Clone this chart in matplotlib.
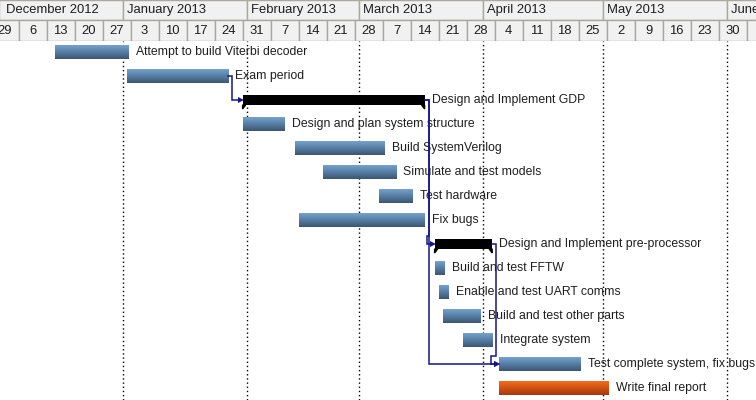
import numpy as np
import pandas as pd
import matplotlib
matplotlib.use("Agg")
import matplotlib.pyplot as plt
import matplotlib.dates as mdates
from matplotlib.patches import Rectangle, Polygon
from matplotlib.colors import to_rgb

# task data
tasks = ["Attempt to build Viterbi decoder", "Exam period", "Design and Implement GDP",
         "Design and plan system structure", "Build SystemVerilog", "Simulate and test models",
         "Test hardware", "Fix bugs", "Design and Implement pre-processor", "Build and test FFTW",
         "Enable and test UART comms", "Build and test other parts", "Integrate system",
         "Test complete system, fix bugs", "Write final report"]
starts = ["2012-12-15", "2013-01-02", "2013-01-31", "2013-01-31", "2013-02-13", "2013-02-20",
          "2013-03-06", "2013-02-14", "2013-03-20", "2013-03-20", "2013-03-21", "2013-03-22",
          "2013-03-27", "2013-04-05", "2013-04-05"]
durations = [18.5, 25.3, 45.5, 10.5, 22.5, 18.3, 8.5, 31.5, 14.4, 2.5, 2.5, 9.5, 7.5, 20.5, 27.5]
kinds = ["task", "task", "summary", "task", "task", "task", "task", "task", "summary",
         "task", "task", "task", "task", "task", "report"]
deps = [(1, 2), (2, 8), (2, 13), (8, 13)]

W, H = 756, 400
HEAD = 41
PX = 0.25          # days per pixel
RP = 1 / 24.0      # rows per pixel

jan1 = mdates.date2num(pd.Timestamp("2013-01-01"))
x_lo = jan1 - 122.6 * PX
x_hi = x_lo + W * PX

fig = plt.figure(figsize=(W / 100, H / 100), dpi=100)
ax = fig.add_axes([0, 0, 1, (H - HEAD) / H])
axh = fig.add_axes([0, (H - HEAD) / H, 1, HEAD / H], sharex=ax)

font = dict(family=["Liberation Sans", "DejaVu Sans"], size=8.8, color="#1e1e1e")
hfont = dict(family=["Liberation Sans", "DejaVu Sans"], size=9.4, color="#1e1e1e")

x0 = np.array([mdates.date2num(pd.Timestamp(s)) for s in starts])
dur = np.array(durations)
x1 = x0 + dur
rows = np.arange(len(tasks))

grad = {"task": ("#74a2d1", "#3c5674"), "report": ("#f46c1c", "#a8380a")}

for i in rows:
    if kinds[i] == "summary":
        h = 10 * RP
        ax.barh(i, dur[i], left=x0[i], height=h, color="black", zorder=3)
        yb = i + h / 2
        ax.add_patch(Polygon([(x0[i], yb), (x0[i] + 3 * PX, yb), (x0[i], yb + 4 * RP)],
                             closed=True, color="black", zorder=3))
        ax.add_patch(Polygon([(x1[i], yb), (x1[i] - 3 * PX, yb), (x1[i], yb + 4 * RP)],
                             closed=True, color="black", zorder=3))
    else:
        h = 14 * RP
        top, bot = [np.array(to_rgb(c)) for c in grad[kinds[i]]]
        t = np.linspace(0, 1, 32)[:, None]
        img = (top[None, :] * (1 - t) + bot[None, :] * t)[:, None, :]
        ax.imshow(img, extent=(x0[i], x1[i], i + h / 2, i - h / 2), aspect="auto",
                  interpolation="bilinear", zorder=3)
    lx = x1[i] + 7 * PX
    ax.text(lx, i + 0.02, tasks[i], va="center", ha="left", zorder=4, **font)

# dependency lines
dep_col = "#15158a"
for a, b in deps:
    xo = x1[a] + 4 * PX
    xt = x0[b]
    if (xt - xo) / PX > 8:
        xs = [x1[a], xo, xo, xt - 2 * PX]
        ys = [a, a, b, b]
    else:
        yj = b - (8 if b - a < 8 else 10) * RP
        xj = xt - 8 * PX
        xs = [x1[a], xo, xo, xj, xj, xt - 2 * PX]
        ys = [a, a, yj, yj, b, b]
    ax.plot(xs, ys, color=dep_col, lw=1.1, zorder=5, solid_joinstyle="miter")
    ax.plot([xt - 2 * PX], [b], marker=">", ms=4.5, color=dep_col, zorder=5, mew=0)

# month separators
months = pd.date_range("2012-12-01", "2013-07-01", freq="MS")
for m in months[1:-1]:
    ax.axvline(mdates.date2num(m), color="black", lw=1, ls=(0, (1, 2)), zorder=1)

ax.set_xlim(x_lo, x_hi)
ax.set_ylim((H - 52) * RP, -11 * RP)
ax.axis("off")

# header: months and weeks
axh.set_ylim(HEAD, 0)
axh.axis("off")
cell = dict(facecolor="#f1f1f1", edgecolor="#aca79f", lw=1)
for m0, m1 in zip(months[:-1], months[1:]):
    a0, a1 = mdates.date2num(m0), mdates.date2num(m1)
    axh.add_patch(Rectangle((a0, 0), a1 - a0, 20, **cell))
    axh.text(max(a0 + 4.5 * PX, x_lo + 6 * PX), 10, m0.strftime("%B %Y"), va="center",
             ha="left", clip_on=True, **hfont)
weeks = pd.date_range("2012-11-29", "2013-06-13", freq="7D")
for w in weeks:
    a0 = mdates.date2num(w)
    axh.add_patch(Rectangle((a0, 20), 7, 21, **cell))
    axh.text(a0 + 3.5, 31, str(w.day), va="center", ha="center", clip_on=True, **hfont)
axh.set_xlim(x_lo, x_hi)

fig.savefig("out.png", dpi=100, facecolor="white")
